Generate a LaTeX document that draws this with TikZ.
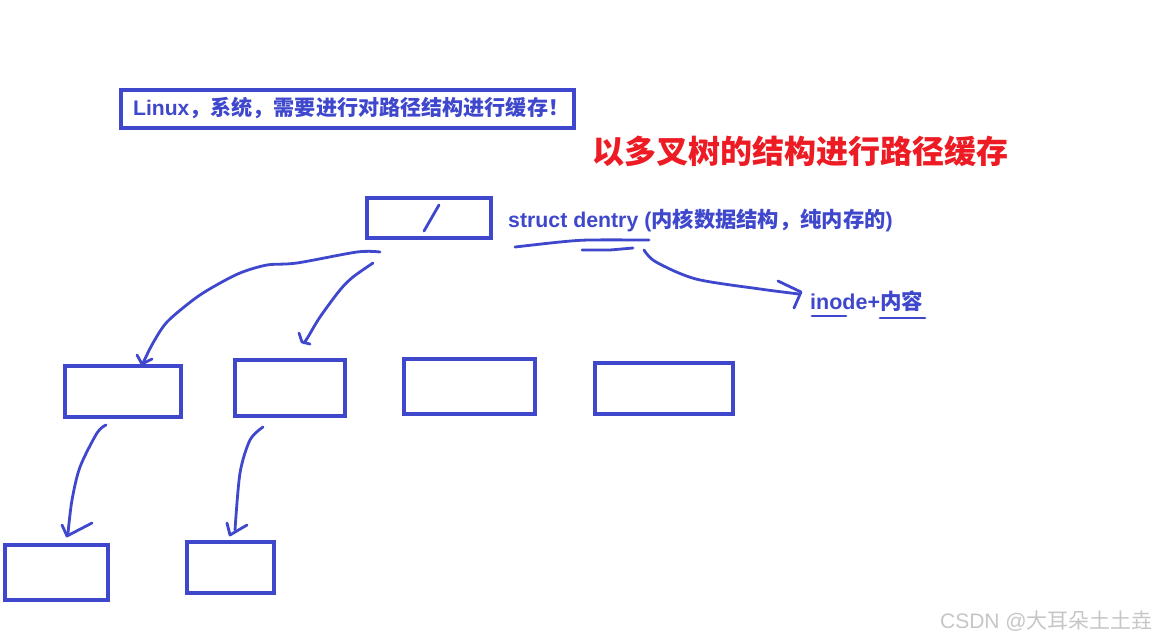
\documentclass[tikz,border=0pt]{standalone}
\usepackage{fontspec}
\newfontfamily\cjk{Noto Sans CJK SC}
\newfontfamily\lat{Liberation Sans}
\newfontfamily\wlat{Liberation Sans}
\definecolor{pblue}{RGB}{63,72,204}
\definecolor{pred}{RGB}{237,28,36}
\definecolor{wgray}{RGB}{198,198,198}
\begin{document}
\begin{tikzpicture}[x=1pt,y=-1pt,
  box/.style={draw=pblue,line width=3.2pt,inner sep=0pt},
  pen/.style={draw=pblue,line width=2.8pt,line cap=round,line join=round},
  lbl/.style={text=pblue,font=\cjk\bfseries,anchor=west,inner sep=0pt}]
\useasboundingbox (0,0) rectangle (1157,641);
\fill[white] (0,0) rectangle (1157,641);
% title box
\draw[box] (121,90) rectangle (574,128);
\node[lbl,font=\cjk\bfseries\fontsize{21.1}{22}\selectfont] (t1) at (133,108) {{\lat\bfseries Linux}，系统，需要进行对路径结构进行缓存！};
\node[text=pred,font=\cjk\bfseries\fontsize{32}{34}\selectfont,anchor=west,inner sep=0pt] (t2) at (592,151) {以多叉树的结构进行路径缓存};
% boxes
\draw[box] (367,198) rectangle (491,238) coordinate (root);
\draw[box] (65,366) rectangle (181,417);
\draw[box] (235,360) rectangle (345,416);
\draw[box] (404,359) rectangle (535,414);
\draw[box] (595,363) rectangle (733,414);
\draw[box] (5,545) rectangle (108,600);
\draw[box] (187,542) rectangle (274,593);
% labels
\node[lbl,font=\cjk\bfseries\fontsize{21.3}{22}\selectfont] (sd) at (508,220) {{\lat\bfseries struct dentry (}内核数据结构，纯内存的{\lat\bfseries )}};
\node[lbl,font=\cjk\bfseries\fontsize{21.5}{22}\selectfont] (in) at (810,301) {{\lat\bfseries inode+}内容};
\node[text=wgray,font=\cjk\fontsize{21}{22}\selectfont,anchor=east,inner sep=0pt] (wm) at (1153,621) {{\wlat CSDN @}大耳朵土土垚};
% strokes
\draw[pen] (424,231) -- (439,205);
\draw[pen] plot[smooth] coordinates {(515,247) (560,242) (589,240) (649,240)};
\draw[pen] (582,250) -- (610,250) -- (633,248);
\draw[pen] plot[smooth] coordinates {(644,250) (656,262) (696,279) (760,289) (799,294)};
\draw[pen] (778,281) -- (801,292) -- (794,308);
\draw[pen] (812,316) -- (846,316);
\draw[pen] (880,318) -- (925,318);
% tree curves
\draw[pen] plot[smooth] coordinates {(380,252) (357,252) (297,263) (267,265) (240,273) (213,287) (193,300) (167,322) (153,343) (143,363)};
\draw[pen] (137,355) -- (142,364) -- (152,359);
\draw[pen] plot[smooth] coordinates {(373,263) (353,277) (340,290) (320,317) (308,337) (304,343)};
\draw[pen] (299,333) -- (302,342) -- (310,344);
\draw[pen] plot[smooth] coordinates {(106,425) (97,433) (80,467) (72,500) (68,533)};
\draw[pen] (62,525) -- (67,536) -- (92,523);
\draw[pen] plot[smooth] coordinates {(263,427) (250,440) (240,473) (235,530)};
\draw[pen] (227,523) -- (230,535) -- (247,525);
\end{tikzpicture}
\end{document}
